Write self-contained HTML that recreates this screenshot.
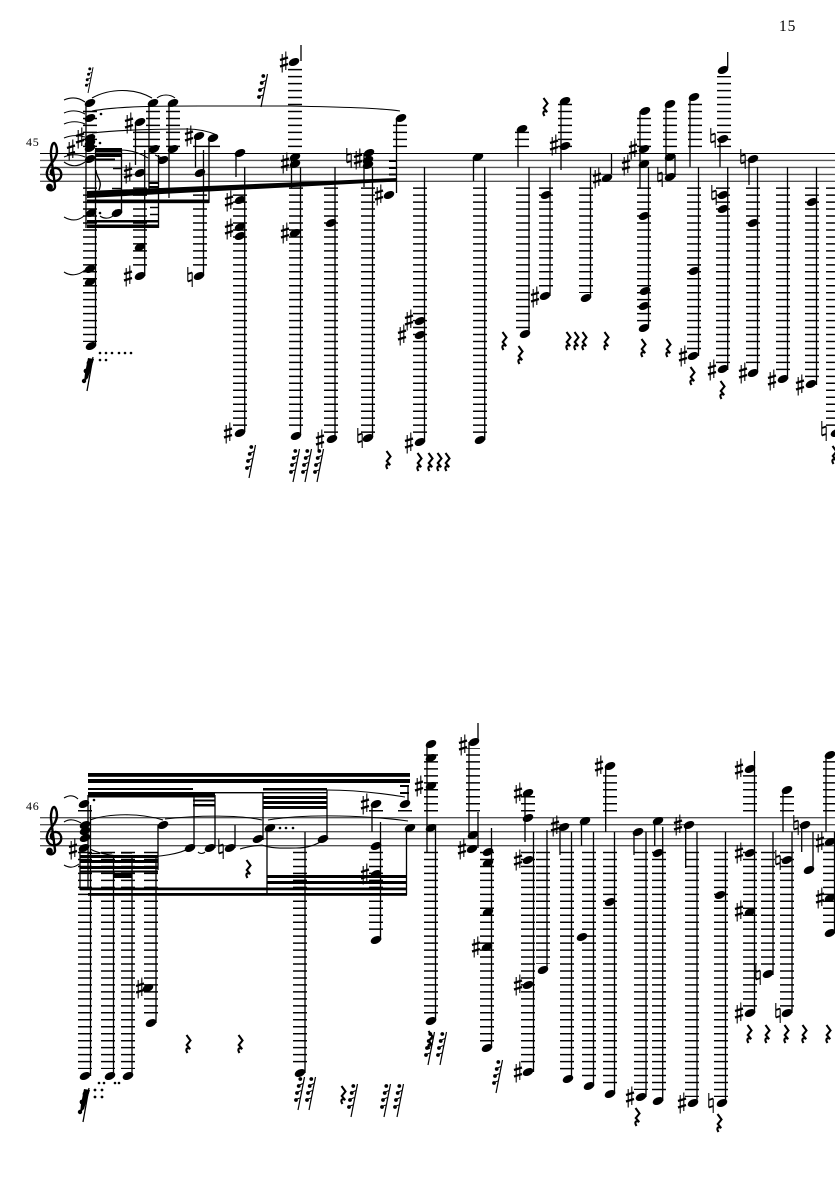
<!DOCTYPE html>
<html><head><meta charset="utf-8"><style>
html,body{margin:0;padding:0;background:#fff}
svg{display:block;width:835px;height:1181px}
text{font-family:"Liberation Serif",serif;fill:#000}
.st{stroke:#555;stroke-width:1.4;fill:none}
.l{stroke:#000;stroke-width:14;stroke-dasharray:1.5 5.47;fill:none}
.v{stroke:#000;stroke-width:1.3;fill:none}
.sl{stroke:#000;stroke-width:1.1;fill:none}
</style></head><body>
<svg xmlns="http://www.w3.org/2000/svg" width="835" height="1181" viewBox="0 0 835 1181">
<defs>
<ellipse id="n" rx="5.6" ry="3.6" transform="rotate(-25)"/>
<g id="s" fill="none" stroke="#000"><path d="M-1.8-8V10.5M1.8-10.5V8" stroke-width="1.1"/><path d="M-4-2L4-4.5M-4 4.5L4 2" stroke-width="2.3"/></g>
<g id="t" fill="none" stroke="#000"><path d="M-2.2-10V4.5M2.2-4.5V10" stroke-width="1.1"/><path d="M-2.2-3L2.2-4.5M-2.2 4.5L2.2 3" stroke-width="1.9"/></g>
<path id="r" d="M-1.5-9L2.5-3.5L-1.2 1L2.2 5C-1 3.2-3 5-.5 9" fill="none" stroke="#000" stroke-width="2.1"/>
<g id="g"><path d="M0 0L6.5-33" stroke="#000" stroke-width="1.2" fill="none"/><circle cx="-2" cy="-10" r="1.9"/><circle cx="-1" cy="-17" r="1.9"/><circle cx=".7" cy="-24" r="1.9"/><circle cx="2.3" cy="-31" r="1.9"/><path d="M-1-11L2-12M0-18L3.4-19.5M1.7-25L4.8-26.5" stroke="#000" stroke-width="1"/></g>
<g id="b"><path d="M0 0L6-34" stroke="#000" stroke-width="1.3" fill="none"/><path d="M-3-9L1-13L7-32L1-33L-2-18Z"/><circle cx="-3" cy="-10" r="2.2"/><circle cx="-1" cy="-20" r="2.4"/><circle cx="2" cy="-28" r="2.4"/></g>
</defs>

<text x="779" y="31" font-size="15.5" letter-spacing=".9">15</text>
<text x="26" y="146" font-size="12" letter-spacing=".8">45</text>
<text x="26" y="810" font-size="12" letter-spacing=".8">46</text>

<!-- staves -->
<path d="M40 153.5H835" stroke="#000" stroke-width="1.1" fill="none"/>
<path class="st" d="M40 160.4H835M40 167.4H835M40 174.4H835M40 181.3H835"/>
<path class="st" d="M40 817.7H835M40 824.7H835M40 831.7H835M40 838.7H835M40 845.7H835"/>

<!-- clefs -->
<g id="clef" fill="none" stroke="#000" stroke-width="2.4">
<path d="M55 176C50 176 49 169 55 168C61.500 167.500 64 177 57.500 180.500C50 183.500 45 177 47.500 170C49 164 57 160 57 151C57 146 55 143 54 143C52 143 50.500 150 51 155L55 186C55.500 191 47 192 47.500 187"/>
<circle cx="49.500" cy="187" r="2.2" fill="#000"/>
</g>
<use href="#clef" x="0" y="664"/>

<!-- ledgers -->
<path class="l" d="M90 187.4V342M140 187.4V270M200 187.4V270M240 187.4V427M296 187.4V431M331 187.4V434M368 187.4V434M420 187.4V437M480 187.4V434M523 187.4V329M546 187.4V291M586 187.4V293M644 187.4V322M694 187.4V351M723 187.4V364M753 187.4V367M783 187.4V374M812 187.4V379M833 187.4V427
M90 147.08V110M140 147.08V130M153 147.08V110M173 147.08V110M200 147.08V145M213 147.08V145M295 147.08V67M400 147.08V124M522 147.08V131M565 147.08V103M644 147.08V117M670 147.08V110M695 147.08V103M724 147.08V76
M85 851.75V1069M108 851.75V1069M128 851.75V1069M151 851.75V1017M300 851.75V1067M376 851.75V934M431 851.75V1014M487 851.75V1042M528 851.75V1066M543 851.75V964M567 851.75V1073M589 851.75V1080M610 851.75V1087M641 851.75V1090M659 851.75V1095M692 851.75V1097M721 851.75V1097M750 851.75V1007M768 851.75V968M787 851.75V1007M830 851.75V927
M85 811.45V809M376 811.45V809M405 811.45V809M431 811.45V751M473 811.45V748M528 811.45V796M610 811.45V771M750 811.45V775M787 811.45V796M830 811.45V761"/>
<path d="M113 168.5H122M112 188.500H122M115 210.500H121M150 207.500H158M150 214.500H158" stroke="#000" stroke-width="1.600"/>

<!-- stems -->
<path class="v" d="M86 103V228M95.500 150V346M121.500 150V213M135.500 122V165M144.700 150V276M149 103V192M158.500 155V228M169 103V198M195.500 136V168M203.500 150V276M209 138V203M236 153V177M244.700 167V432M291.500 157V188M300.500 167V435M301 45V61M335 167V438M364 153V187M372.500 167V437M396.500 118V193M424.500 167V442M473.500 157V181M484.700 167V440M518 129V167M529 167V334M550 167V296M561 101V170M590.500 167V298M611.500 153V174M640 111V188M648.500 167V326M666 104V175M675 155V177M690 97V167M698.500 167V356M720 139V167M727.700 52V68M727.700 167V370M749 160V185M757.500 167V372M787.500 167V379M816.500 167V385
M80 848V890M88 795V890M90.500 805V1076M113.500 855V1076M132 855V1076M156 855V1023M158 825V870M194 795V848M215 795V848M235 825V848M263 793V840M267 828V895M305 832V1073M327 790V839M372 804V832M380.500 822V940M408 786V804M406.500 828V895M427 744V853M435.500 825V1020M469 742V836M478 723V740M478 812V848M491.500 828V1048M525 793V842M533.500 832V1072M547 830V970M560 827V855M571.500 832V1079M581.500 821V846M593.500 832V1086M605.700 766V832M614.500 832V1094M634 832V855M646 832V1097M654.700 821V846M662.700 827V1101M685.700 825V868M697 832V1103M725.500 832V1103M754.500 751V1013M773 832V975M783 790V832M792 832V1013M801.700 825V852M813 832V868M826 755V832M834.500 832V933"/>

<!-- flag -->
<path d="M96 170C96 178 103 180 99 190" stroke="#000" stroke-width="1.400" fill="none"/>

<!-- beams -->
<g>
<rect x="95" y="148" width="27" height="4.500"/><rect x="95" y="153.500" width="27" height="3.500"/><rect x="95" y="158.500" width="20" height="2"/>
<path d="M87 191L397 178V181.500L87 198Z"/>
<rect x="87" y="199.500" width="122" height="3.700"/>
<rect x="87" y="220" width="72" height="2.500"/><rect x="87" y="224.500" width="72" height="3.500"/>
<rect x="149" y="182" width="10" height="2"/><rect x="149" y="186" width="10" height="2.200"/>
<rect x="389" y="160" width="8" height="2"/><rect x="389" y="167" width="8" height="2"/><rect x="389" y="173.500" width="8" height="2"/>

<rect x="88" y="773" width="322" height="3.800"/><rect x="88" y="779" width="322" height="4"/><rect x="88" y="788" width="105" height="2"/><rect x="215" y="792" width="112" height="1.400"/>
<rect x="88" y="792" width="127" height="5.500"/>
<rect x="193" y="799.500" width="22" height="2"/><rect x="193" y="804" width="22" height="2.500"/><rect x="263" y="788" width="64" height="2.500"/><rect x="263" y="796" width="64" height="3"/><rect x="263" y="801" width="64" height="3"/><rect x="263" y="806" width="64" height="3"/>
<rect x="400" y="785" width="9" height="2"/><rect x="400" y="792" width="9" height="2"/>
<rect x="80" y="855" width="78" height="3"/><rect x="80" y="860" width="78" height="3"/><rect x="80" y="866" width="78" height="3"/><rect x="113" y="873" width="19" height="5"/><rect x="80" y="870.500" width="78" height="2"/>
<rect x="80" y="887.500" width="327" height="2.800"/><rect x="88" y="893" width="319" height="2.800"/>
<rect x="267" y="875" width="140" height="3"/><rect x="267" y="881" width="140" height="3"/>
<path d="M88 853.500H100M102 853H112M121 853H132" stroke="#000" stroke-width="1.200"/>
</g>

<!-- slurs/ties -->
<path class="sl" d="M64 100C71 97 78 97 85 102M64 113C71 110 78 110 85 114M64 124C71 121 78 121 85 124M64 138C71 135 78 135 85 137M64 157C71 154 78 154 85 157M64 162C71 167 78 167 85 162M64 217C71 221 78 221 84 216M64 272C70 276 78 276 85 270M92 98C110 88 135 88 152 98M157 98C162 94 170 94 175 98M92 111C120 106 160 106 200 106L290 106C340 107 380 108 400 111M92 133C120 130 160 129 187 129C200 129 210 132 217 135M100 216C104 219 110 219 114 215M120 150C130 150 140 153 148 158M155 155C158 156 160 158 163 158
M64 798C69 795 74 795 78 799M64 822C69 819 74 819 81 823M64 865C69 868 74 868 79 864M90 820C110 813 140 813 163 820M90 849C110 860 170 860 190 848M198 852C200 854 203 854 205 852M165 819C200 815 240 815 262 820M268 820C310 813 370 816 408 821M262 845C272 849 285 848 296 848C305 848 315 846 323 840M240 849C246 847 252 846 262 845M327 790C350 790 380 793 405 797"/>

<!-- notes system 1 -->
<g>
<use href="#n" x="90" y="103"/><use href="#n" x="90" y="118"/><use href="#n" x="90" y="138"/><use href="#n" x="90" y="143"/><use href="#n" x="90" y="148"/><use href="#n" x="90" y="159"/><use href="#n" x="91" y="213"/><use href="#n" x="90" y="269"/><use href="#n" x="90" y="282"/><use href="#n" x="91" y="346"/>
<use href="#n" x="117" y="213"/><use href="#n" x="140" y="122"/><use href="#n" x="140" y="173"/><use href="#n" x="140" y="247"/><use href="#n" x="140" y="276"/>
<use href="#n" x="153" y="103"/><use href="#n" x="154" y="149"/><use href="#n" x="163" y="160"/><use href="#n" x="173" y="103"/><use href="#n" x="173" y="149"/>
<use href="#n" x="199" y="136"/><use href="#n" x="200" y="173"/><use href="#n" x="199" y="276"/><use href="#n" x="213" y="138"/>
<use href="#n" x="240" y="153"/><use href="#n" x="240" y="200"/><use href="#n" x="240" y="227"/><use href="#n" x="240" y="236"/><use href="#n" x="240" y="433"/>
<use href="#n" x="294" y="62"/><use href="#n" x="295" y="157"/><use href="#n" x="295" y="164"/><use href="#n" x="295" y="233"/><use href="#n" x="296" y="436"/>
<use href="#n" x="331" y="223"/><use href="#n" x="332" y="439"/>
<use href="#n" x="369" y="153"/><use href="#n" x="368" y="160"/><use href="#n" x="368" y="165"/><use href="#n" x="368" y="438"/>
<use href="#n" x="401" y="118"/><use href="#n" x="389" y="195"/>
<use href="#n" x="420" y="321"/><use href="#n" x="420" y="335"/><use href="#n" x="420" y="442"/>
<use href="#n" x="478" y="157"/><use href="#n" x="480" y="440"/>
<use href="#n" x="522" y="129"/><use href="#n" x="525" y="334"/>
<use href="#n" x="546" y="195"/><use href="#n" x="545" y="296"/>
<use href="#n" x="565" y="101"/><use href="#n" x="565" y="146"/><use href="#n" x="607" y="178"/><use href="#n" x="586" y="298"/>
<use href="#n" x="645" y="111"/><use href="#n" x="644" y="149"/><use href="#n" x="644" y="164"/><use href="#n" x="644" y="216"/><use href="#n" x="645" y="291"/><use href="#n" x="644" y="306"/><use href="#n" x="644" y="328"/>
<use href="#n" x="670" y="104"/><use href="#n" x="670" y="157"/><use href="#n" x="670" y="177"/>
<use href="#n" x="694" y="97"/><use href="#n" x="694" y="271"/><use href="#n" x="693" y="356"/>
<use href="#n" x="723" y="70"/><use href="#n" x="723" y="139"/><use href="#n" x="723" y="195"/><use href="#n" x="723" y="209"/><use href="#n" x="723" y="369"/>
<use href="#n" x="753" y="159"/><use href="#n" x="753" y="223"/><use href="#n" x="753" y="373"/>
<use href="#n" x="783" y="379"/><use href="#n" x="812" y="202"/><use href="#n" x="811" y="384"/><use href="#n" x="836" y="433"/>
</g>

<!-- notes system 2 -->
<g>
<use href="#n" x="84" y="804"/><use href="#n" x="85" y="825"/><use href="#n" x="85" y="831"/><use href="#n" x="85" y="838"/><use href="#n" x="84" y="848"/><use href="#n" x="85" y="1076"/><use href="#n" x="110" y="1076"/><use href="#n" x="128" y="1076"/><use href="#n" x="151" y="1023"/><use href="#n" x="148" y="988"/><use href="#n" x="163" y="825"/>
<use href="#n" x="190" y="848"/><use href="#n" x="210" y="848"/><use href="#n" x="230" y="848"/><use href="#n" x="258" y="839"/><use href="#n" x="270" y="828"/>
<use href="#n" x="300" y="1073"/><use href="#n" x="323" y="839"/>
<use href="#n" x="376" y="804"/><use href="#n" x="376" y="846"/><use href="#n" x="376" y="874"/><use href="#n" x="376" y="940"/>
<use href="#n" x="405" y="804"/><use href="#n" x="410" y="828"/>
<use href="#n" x="431" y="744"/><use href="#n" x="431" y="758"/><use href="#n" x="431" y="786"/><use href="#n" x="431" y="828"/><use href="#n" x="431" y="1021"/>
<use href="#n" x="474" y="742"/><use href="#n" x="473" y="835"/><use href="#n" x="472" y="849"/>
<use href="#n" x="488" y="852"/><use href="#n" x="488" y="863"/><use href="#n" x="488" y="912"/><use href="#n" x="487" y="947"/><use href="#n" x="487" y="1048"/>
<use href="#n" x="528" y="793"/><use href="#n" x="528" y="818"/><use href="#n" x="528" y="860"/><use href="#n" x="528" y="985"/><use href="#n" x="528" y="1072"/><use href="#n" x="543" y="970"/>
<use href="#n" x="564" y="827"/><use href="#n" x="568" y="1079"/><use href="#n" x="585" y="821"/><use href="#n" x="582" y="937"/><use href="#n" x="589" y="1086"/>
<use href="#n" x="610" y="766"/><use href="#n" x="610" y="902"/><use href="#n" x="610" y="1094"/>
<use href="#n" x="638" y="832"/><use href="#n" x="641" y="1097"/><use href="#n" x="658" y="821"/><use href="#n" x="658" y="853"/><use href="#n" x="658" y="1101"/>
<use href="#n" x="689" y="825"/><use href="#n" x="693" y="1103"/><use href="#n" x="720" y="895"/><use href="#n" x="722" y="1103"/>
<use href="#n" x="750" y="769"/><use href="#n" x="750" y="853"/><use href="#n" x="750" y="912"/><use href="#n" x="750" y="1013"/>
<use href="#n" x="768" y="974"/><use href="#n" x="787" y="790"/><use href="#n" x="787" y="860"/><use href="#n" x="787" y="1013"/>
<use href="#n" x="805" y="825"/><use href="#n" x="809" y="870"/><use href="#n" x="830" y="755"/><use href="#n" x="830" y="842"/><use href="#n" x="830" y="898"/><use href="#n" x="830" y="933"/>
</g>

<!-- sharps -->
<g>
<use href="#s" x="71" y="150"/><use href="#s" x="80" y="138"/><use href="#s" x="129" y="123"/><use href="#s" x="128" y="173"/><use href="#s" x="128" y="276"/><use href="#s" x="189" y="136"/>
<use href="#s" x="229" y="201"/><use href="#s" x="229" y="229"/><use href="#s" x="228" y="433"/><use href="#s" x="284" y="62"/><use href="#s" x="285" y="163"/><use href="#s" x="285" y="233"/><use href="#s" x="320" y="440"/><use href="#s" x="358" y="159"/><use href="#s" x="379" y="195"/>
<use href="#s" x="409" y="320"/><use href="#s" x="402" y="335"/><use href="#s" x="409" y="443"/><use href="#s" x="535" y="297"/><use href="#s" x="554" y="145"/><use href="#s" x="597" y="178"/><use href="#s" x="633" y="149"/><use href="#s" x="626" y="165"/>
<use href="#s" x="683" y="356"/><use href="#s" x="712" y="370"/><use href="#s" x="743" y="373"/><use href="#s" x="772" y="380"/><use href="#s" x="800" y="385"/>
<use href="#s" x="73" y="849"/><use href="#s" x="140" y="988"/><use href="#s" x="365" y="804"/><use href="#s" x="365" y="874"/><use href="#s" x="419" y="786"/><use href="#s" x="463" y="745"/><use href="#s" x="462" y="849"/><use href="#s" x="476" y="947"/>
<use href="#s" x="518" y="793"/><use href="#s" x="518" y="860"/><use href="#s" x="518" y="985"/><use href="#s" x="518" y="1072"/><use href="#s" x="555" y="826"/><use href="#s" x="599" y="766"/><use href="#s" x="630" y="1097"/><use href="#s" x="678" y="825"/><use href="#s" x="682" y="1103"/>
<use href="#s" x="739" y="769"/><use href="#s" x="739" y="853"/><use href="#s" x="739" y="911"/><use href="#s" x="739" y="1013"/><use href="#s" x="820" y="842"/><use href="#s" x="820" y="898"/>
</g>

<!-- naturals -->
<g>
<use href="#t" x="190" y="277"/><use href="#t" x="349" y="158"/><use href="#t" x="360" y="438"/><use href="#t" x="660" y="177"/><use href="#t" x="713" y="138"/><use href="#t" x="714" y="195"/><use href="#t" x="743" y="159"/><use href="#t" x="824" y="431"/>
<use href="#t" x="221" y="849"/><use href="#t" x="711" y="1103"/><use href="#t" x="758" y="975"/><use href="#t" x="778" y="860"/><use href="#t" x="778" y="1013"/><use href="#t" x="796" y="825"/>
</g>

<!-- rests -->
<g>
<use href="#r" x="545" y="107"/><use href="#r" x="388" y="460"/><use href="#r" x="419" y="462"/><use href="#r" x="430" y="462"/><use href="#r" x="439" y="462"/><use href="#r" x="447" y="462"/><use href="#r" x="504" y="341"/><use href="#r" x="520" y="355"/><use href="#r" x="568" y="341"/><use href="#r" x="576" y="341"/><use href="#r" x="584" y="341"/><use href="#r" x="606" y="341"/><use href="#r" x="643" y="348"/><use href="#r" x="668" y="348"/><use href="#r" x="692" y="376"/><use href="#r" x="722" y="390"/><use href="#r" x="834" y="455"/>
<use href="#r" x="248" y="869"/><use href="#r" x="188" y="1044"/><use href="#r" x="240" y="1044"/><use href="#r" x="343" y="1095"/><use href="#r" x="637" y="1117"/><use href="#r" x="719" y="1123"/><use href="#r" x="749" y="1034"/><use href="#r" x="767" y="1034"/><use href="#r" x="786" y="1034"/><use href="#r" x="804" y="1034"/><use href="#r" x="828" y="1034"/><use href="#r" x="430" y="1040"/>
</g>

<!-- grace groups -->
<g>
<use href="#g" transform="translate(88 93) scale(.78)"/><use href="#g" x="261" y="107"/><use href="#b" x="87" y="391"/><use href="#g" x="249" y="478"/><use href="#g" x="293" y="482"/><use href="#g" x="305" y="482"/><use href="#g" x="317" y="482"/>
<use href="#g" x="298" y="1110"/><use href="#g" x="309" y="1110"/><use href="#g" x="351" y="1117"/><use href="#g" x="384" y="1117"/><use href="#g" x="397" y="1117"/><use href="#g" x="428" y="1065"/><use href="#g" x="440" y="1065"/><use href="#b" x="83" y="1122"/><use href="#g" x="496" y="1093"/>
</g>

<!-- dots -->
<g>
<circle cx="100" cy="213" r="1.300"/><circle cx="101" cy="114" r="1.300"/><circle cx="100" cy="143" r="1.300"/>
<circle cx="100" cy="353" r="1.300"/><circle cx="106" cy="353" r="1.300"/><circle cx="112" cy="353" r="1.300"/><circle cx="119" cy="353" r="1.300"/><circle cx="125" cy="353" r="1.300"/><circle cx="131" cy="353" r="1.300"/><circle cx="100" cy="360" r="1.300"/><circle cx="106" cy="360" r="1.300"/>
<circle cx="94" cy="800" r="1.300"/><circle cx="280" cy="828" r="1.300"/><circle cx="286" cy="828" r="1.300"/><circle cx="293" cy="828" r="1.300"/>
<circle cx="95" cy="1090" r="1.400"/><circle cx="102" cy="1090" r="1.400"/><circle cx="95" cy="1097" r="1.400"/><circle cx="102" cy="1097" r="1.400"/>
<circle cx="99" cy="1083" r="1.300"/><circle cx="104" cy="1083" r="1.300"/><circle cx="115" cy="1083" r="1.300"/><circle cx="119" cy="1083" r="1.300"/>
</g>
</svg>
</body></html>
